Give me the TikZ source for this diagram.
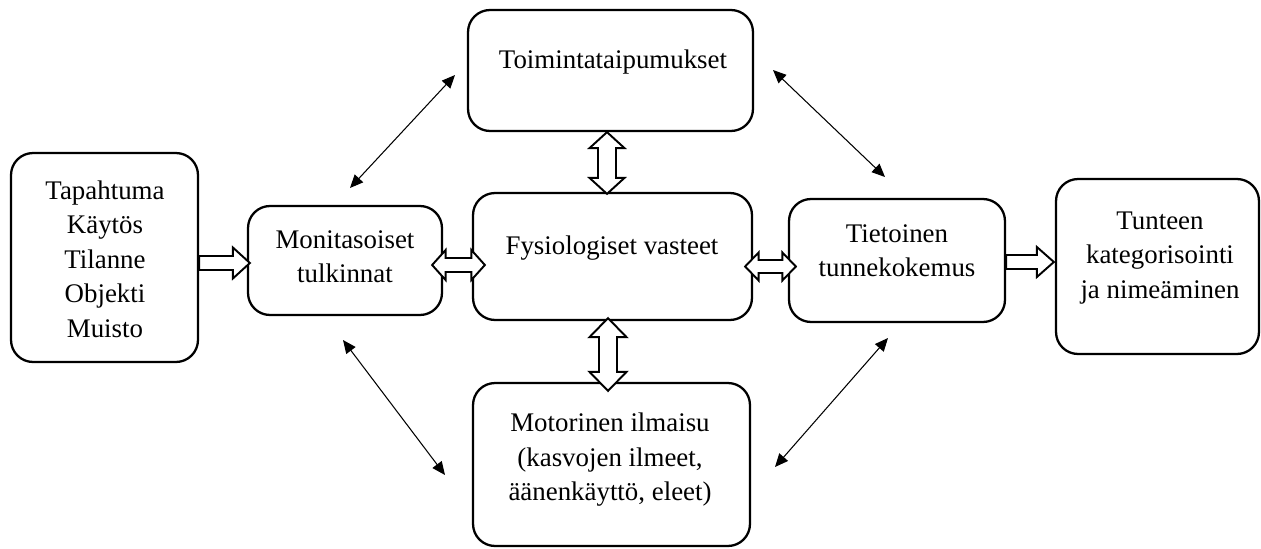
\documentclass[tikz,border=0pt]{standalone}
\usepackage{fontspec}
\setmainfont{Liberation Serif}
\usetikzlibrary{calc,arrows.meta}
\newcommand\fs{\fontsize{15.3pt}{19.6pt}\selectfont}
\newcommand\hollowarrow[5]{%
  \coordinate (hA) at ($(#2)!#5!(#1)$);
  \draw[blockarrow] ($(#1)!#3!90:(#2)$) -- ($(hA)!#3!90:(#2)$) -- ($(hA)!#4!90:(#2)$) -- (#2)
    -- ($(hA)!#4!-90:(#2)$) -- ($(hA)!#3!-90:(#2)$) -- ($(#1)!#3!-90:(#2)$) -- cycle;
}
\newcommand\hollowdarrow[5]{%
  \coordinate (hA) at ($(#1)!#5!(#2)$);
  \coordinate (hB) at ($(#2)!#5!(#1)$);
  \draw[blockarrow] (#1) -- ($(hA)!#4!90:(#2)$) -- ($(hA)!#3!90:(#2)$) -- ($(hB)!#3!90:(#2)$)
    -- ($(hB)!#4!90:(#2)$) -- (#2) -- ($(hB)!#4!-90:(#2)$) -- ($(hB)!#3!-90:(#2)$)
    -- ($(hA)!#3!-90:(#2)$) -- ($(hA)!#4!-90:(#2)$) -- cycle;
}
\begin{document}
\begin{tikzpicture}[x=0.02cm,y=-0.02cm,
  box/.style={draw, line width=1.3pt, rounded corners=0.44cm, inner sep=0pt, fill=white},
  txt/.style={align=center, font=\fs, inner sep=0pt},
  blockarrow/.style={draw, fill=white, line width=1.1pt, line join=miter},
  thin/.style={line width=0.6pt, {Triangle[length=7.5pt,width=6.5pt]}-{Triangle[length=7.5pt,width=6.5pt]}}]
\useasboundingbox (0,0) rectangle (1261,548);
% boxes
\node[box, minimum width=3.74cm, minimum height=4.18cm] (a) at (104.5,257.5) {};
\node[box, minimum width=3.88cm, minimum height=2.18cm] (b) at (345,260.5) {};
\node[box, minimum width=5.58cm, minimum height=2.54cm] (c) at (612.5,256.5) {};
\node[box, minimum width=5.70cm, minimum height=2.42cm] (d) at (610.5,70.5) {};
\node[box, minimum width=5.54cm, minimum height=3.26cm] (e) at (611.5,464.5) {};
\node[box, minimum width=4.32cm, minimum height=2.46cm] (f) at (897,260.5) {};
\node[box, minimum width=4.06cm, minimum height=3.50cm] (g) at (1157.5,266.5) {};
% texts
\node[txt] (at) at (105,259) {Tapahtuma\\Käytös\\Tilanne\\Objekti\\Muisto};
\node[txt] (bt) at (345,256.5) {Monitasoiset\\tulkinnat};
\node[txt] (ct) at (612,248) {Fysiologiset vasteet};
\node[txt] (dt) at (613,62) {Toimintataipumukset};
\node[txt] (et) at (610,460) {Motorinen ilmaisu\\(kasvojen ilmeet,\\äänenkäyttö, eleet)};
\node[txt] (ft) at (897,250.5) {Tietoinen\\tunnekokemus};
\node[txt] (gt) at (1160,258) {Tunteen\\kategorisointi\\ja nimeäminen};
% block arrow end points
\coordinate (abS) at ($(a.east)+(0,5.5)$);
\coordinate (abT) at ($(b.west)+(3,2.5)$);
\coordinate (bcS) at ($(b.east)+(-11,4.5)$);
\coordinate (bcT) at ($(c.west)+(13,8.5)$);
\coordinate (cfS) at ($(c.east)+(-8,10)$);
\coordinate (cfT) at ($(f.west)+(8,6)$);
\coordinate (fgS) at ($(f.east)+(0,1.5)$);
\coordinate (fgT) at ($(g.west)+(-1,-4.5)$);
\coordinate (dcS) at ($(d.south)+(-3.5,0)$);
\coordinate (dcT) at ($(c.north)+(-5.5,2)$);
\coordinate (ceS) at ($(c.south)+(-4.5,-3)$);
\coordinate (ceT) at ($(e.north)+(-3.5,9)$);
\hollowarrow{abS}{abT}{0.14cm}{0.31cm}{0.34cm}
\hollowdarrow{bcS}{bcT}{0.14cm}{0.30cm}{0.27cm}
\hollowdarrow{cfS}{cfT}{0.13cm}{0.28cm}{0.27cm}
\hollowarrow{fgS}{fgT}{0.14cm}{0.30cm}{0.34cm}
\hollowdarrow{dcS}{dcT}{0.18cm}{0.35cm}{0.32cm}
\hollowdarrow{ceS}{ceT}{0.18cm}{0.37cm}{0.38cm}
% thin diagonal arrows
\coordinate (ul1) at (350,188);
\coordinate (ul2) at (455,75);
\coordinate (ll1) at (343,340);
\coordinate (ll2) at (445,475);
\coordinate (ur1) at (773,70);
\coordinate (ur2) at (885,177);
\coordinate (lr1) at (888,338);
\coordinate (lr2) at (775,467);
\draw[thin] (ul1) -- (ul2);
\draw[thin] (ll1) -- (ll2);
\draw[thin] (ur1) -- (ur2);
\draw[thin] (lr1) -- (lr2);
\end{tikzpicture}
\end{document}
